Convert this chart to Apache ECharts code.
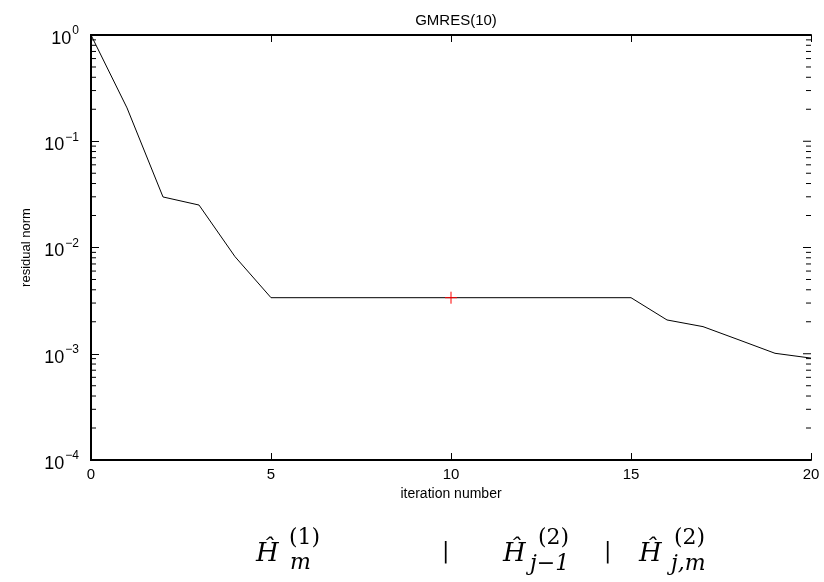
<!DOCTYPE html>
<html>
<head>
<meta charset="utf-8">
<script src="https://cdn.jsdelivr.net/npm/echarts@6/dist/echarts.min.js"></script>
<style>
  html, body { margin: 0; padding: 0; background: #fff; }
  #main { width: 824px; height: 582px; }
</style>
</head>
<body>
<div id="main"></div>
<script>
  // iteration number and residual norm
  var iterations = [0, 1, 2, 3, 4, 5, 6, 7, 8, 9, 10, 11, 12, 13, 14, 15, 16, 17, 18, 19, 20];
  var residuals = [1.0, 0.206, 0.0299, 0.0251, 0.0082, 0.00337, 0.00337, 0.00337, 0.00337, 0.00337,
                   0.00337, 0.00337, 0.00337, 0.00337, 0.00337, 0.00337, 0.00208, 0.0018, 0.00135, 0.00101, 0.00091];
  var restartPoint = [10, 0.00337];
  var xMin = 0, xMax = 20, xStep = 5;
  var yMin = 1e-4, yMax = 1;
  var decades = [1e-4, 1e-3, 1e-2, 1e-1, 1];

  // minor ticks of the log axis (2..9 within each decade)
  var minorValues = [];
  for (var d = -4; d < 0; d++) {
    for (var k = 2; k <= 9; k++) {
      minorValues.push(k * Math.pow(10, d));
    }
  }
  // right-side ticks: [value, length]  (left side uses the axis' own major ticks)
  var boxTicks = [];
  minorValues.forEach(function (v) { boxTicks.push([v, 5, 1]); });
  decades.forEach(function (v) { boxTicks.push([v, 8, 0]); });

  var myChart = echarts.init(document.getElementById('main'));

  var font = 'Liberation Sans, Arial, sans-serif';
  var serif = 'DejaVu Serif, Liberation Serif, serif';

  function mathText(x, y, txt, size, italic) {
    return {
      type: 'text', left: x, top: y,
      style: { text: txt, font: (italic ? 'italic ' : '') + size + 'px ' + serif, fill: '#000' }
    };
  }

  var option = {
    backgroundColor: '#fff',
    animation: false,
    title: {
      text: 'GMRES(10)',
      left: 451, top: 8, textAlign: 'center',
      textStyle: { fontFamily: font, fontSize: 15, fontWeight: 'normal', color: '#000' }
    },
    grid: { left: 91, right: 13, top: 35, bottom: 122 },
    xAxis: [{
      type: 'value', min: xMin, max: xMax, interval: xStep,
      name: 'iteration number', nameLocation: 'middle', nameGap: 22,
      nameTextStyle: { fontFamily: font, fontSize: 14, color: '#000' },
      axisLine: { show: true, onZero: false, lineStyle: { color: '#000', width: 2 } },
      axisTick: { show: true, inside: true, length: 7, lineStyle: { color: '#000' } },
      axisLabel: { fontFamily: font, fontSize: 15, color: '#000', margin: 7 },
      splitLine: { show: false }
    }, {
      type: 'value', min: xMin, max: xMax, interval: xStep, position: 'top',
      axisLine: { show: true, onZero: false, lineStyle: { color: '#000', width: 2 } },
      axisTick: { show: true, inside: true, length: 7, lineStyle: { color: '#000' } },
      axisLabel: { show: false },
      splitLine: { show: false }
    }],
    yAxis: [{
      type: 'log', logBase: 10, min: yMin, max: yMax,
      name: 'residual norm', nameLocation: 'middle', nameGap: 58, nameRotate: 90,
      nameTextStyle: { fontFamily: font, fontSize: 13, color: '#000' },
      axisLine: { show: true, lineStyle: { color: '#000', width: 2 } },
      axisTick: { show: true, inside: true, length: 8, lineStyle: { color: '#000' } },
      axisLabel: {
        margin: 12,
        formatter: function (v) {
          var e = Math.round(Math.log10(v));
          return '{b|10}{s|' + (e === 0 ? '0' : '\u2212' + (-e)) + '}';
        },
        rich: {
          b: { fontFamily: font, fontSize: 18, color: '#000', padding: [8, 0, 0, 0] },
          s: { fontFamily: font, fontSize: 12, color: '#000', padding: [0, 0, 8, 1] }
        }
      },
      splitLine: { show: false }
    }, {
      type: 'log', logBase: 10, min: yMin, max: yMax, position: 'right',
      axisLine: { show: true, lineStyle: { color: '#000', width: 2 } },
      axisTick: { show: false },
      axisLabel: { show: false },
      splitLine: { show: false }
    }],
    series: [{
      type: 'line',
      data: iterations.map(function (x, i) { return [x, residuals[i]]; }),
      showSymbol: false,
      symbol: 'none',
      lineStyle: { color: '#000', width: 1 },
      z: 3
    }, {
      // log ticks: minor on the left, minor + major on the right
      type: 'custom',
      silent: true,
      renderItem: function (params, api) {
        var v = api.value(0);
        var len = api.value(1);
        var minor = api.value(2);
        var pl = api.coord([xMin, v]);
        var pr = api.coord([xMax, v]);
        var d = 'M' + pr[0] + ',' + pr[1] + 'L' + (pr[0] - len) + ',' + pr[1];
        if (minor) {
          d += 'M' + pl[0] + ',' + pl[1] + 'L' + (pl[0] + len) + ',' + pl[1];
        }
        return {
          type: 'path',
          shape: { pathData: d },
          style: { fill: null, stroke: '#000', lineWidth: 1 }
        };
      },
      encode: { y: 0 },
      data: boxTicks,
      z: 5
    }, {
      // red "+" marker at the restart point
      type: 'custom',
      silent: true,
      renderItem: function (params, api) {
        var p = api.coord([api.value(0), api.value(1)]);
        var h = 6;
        return {
          type: 'path',
          shape: {
            pathData: 'M' + (p[0] - h) + ',' + p[1] + 'L' + (p[0] + h) + ',' + p[1] +
                      'M' + p[0] + ',' + (p[1] - h) + 'L' + p[0] + ',' + (p[1] + h)
          },
          style: { fill: null, stroke: '#ff0000', lineWidth: 1 }
        };
      },
      encode: { x: 0, y: 1 },
      data: [restartPoint],
      z: 6
    }],
    graphic: [
      mathText(256, 541, '\u0124', 26, true),
      mathText(289, 527, '(1)', 22, false),
      mathText(290, 552, 'm', 22, true),
      mathText(442, 541, '|', 22, false),
      mathText(503, 541, '\u0124', 26, true),
      mathText(538, 527, '(2)', 22, false),
      mathText(530, 553, 'j\u22121', 22, true),
      mathText(604, 541, '|', 22, false),
      mathText(639, 541, '\u0124', 26, true),
      mathText(674, 527, '(2)', 22, false),
      mathText(671, 553, 'j,m', 22, true)
    ]
  };

  myChart.setOption(option);
</script>
</body>
</html>
